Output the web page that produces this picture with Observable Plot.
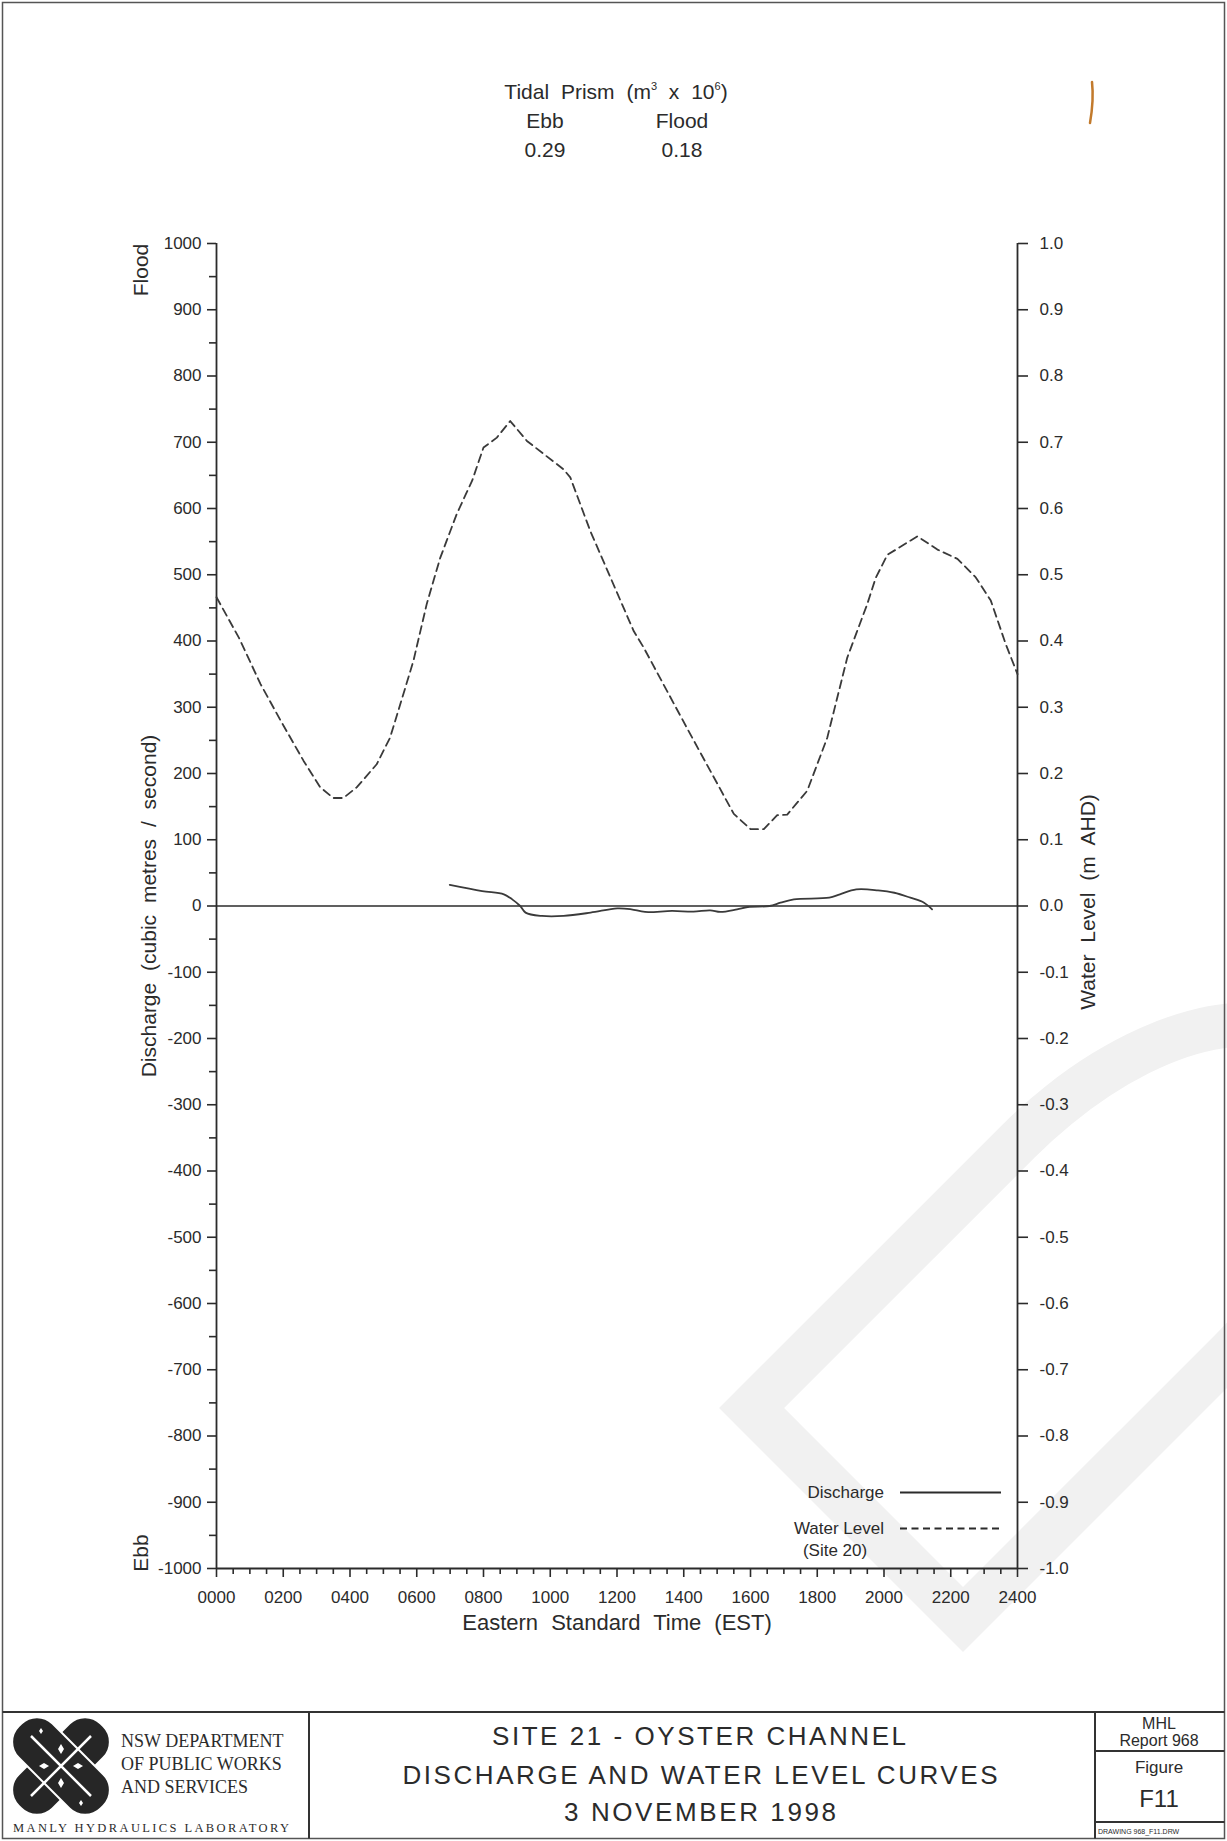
<!DOCTYPE html>
<html>
<head>
<meta charset="utf-8">
<script src="https://cdn.jsdelivr.net/npm/d3@7"></script>
<script src="https://cdn.jsdelivr.net/npm/@observablehq/plot@0.6"></script>
<style>
  html, body { margin: 0; padding: 0; background: #fff; }
  #page { position: relative; width: 1227px; height: 1841px; overflow: hidden; background: #fff; }
  #page > svg { position: absolute; left: 0; top: 0; }
</style>
</head>
<body>
<div id="page"></div>
<script>
// Water level at Site 20 (m AHD), hours after midnight EST
const levelHours = [0, 0.67, 1.32, 1.92, 2.61, 3.11, 3.5, 3.8, 4.2, 4.8, 5.2, 5.6, 5.9, 6.3, 6.7,
  7.2, 7.66, 8.0, 8.4, 8.8, 9.3, 10.4, 10.6, 11.2, 12.5, 12.8, 14.2, 15.5, 16.0, 16.4,
  16.8, 17.1, 17.7, 18.3, 18.9, 19.5, 19.75, 20.1, 21.0, 21.6, 22.2, 22.75, 23.2, 23.65, 24.0];
const levelMetres = [0.466, 0.405, 0.335, 0.28, 0.219, 0.179, 0.163, 0.163, 0.179, 0.214, 0.254, 0.32, 0.37, 0.456, 0.525,
  0.592, 0.642, 0.692, 0.707, 0.732, 0.702, 0.659, 0.647, 0.566, 0.415, 0.39, 0.259, 0.139, 0.116, 0.116,
  0.137, 0.138, 0.174, 0.254, 0.375, 0.456, 0.495, 0.53, 0.558, 0.538, 0.524, 0.496, 0.461, 0.395, 0.35];

// Measured discharge through Oyster Channel (m³/s, flood positive)
const dischargeHours = [6.99, 7.96, 8.61, 8.86, 9.10, 9.26, 9.75, 10.40, 11.21, 12.01, 12.43, 12.84, 13.65, 14.29,
  14.79, 15.10, 15.6, 15.92, 16.57, 16.9, 17.3, 18.36, 18.68, 19.17, 19.82, 20.31, 20.79, 21.2, 21.44];
const dischargeFlow = [32, 22.6, 17.6, 10, 0, -10, -15, -15, -10, -3.5, -5, -9, -7.5, -8.5,
  -6.5, -9, -5, -1.5, 0, 5, 10, 12.5, 17.6, 25, 23.6, 20, 12.5, 5, -5];

// Axis ticks
const hourTicks = d3.range(0, 24.01, 2);
const halfHourTicks = d3.range(0, 24.01, 0.5).filter(h => h % 2 !== 0);
const dischargeTicks = d3.range(-1000, 1001, 100);
const dischargeMinorTicks = d3.range(-950, 1000, 100);
const levelTicks = d3.range(-10, 11).map(i => i / 10);

// Tidal prism summary (m³ x 10⁶)
const prismLabels = ["Ebb", "Flood"];
const prismValues = ["0.29", "0.18"];

const waterLevel = levelHours.map((t, i) => ({t, level: levelMetres[i]}));
const discharge = dischargeHours.map((t, i) => ({t, q: dischargeFlow[i]}));

// Water level shares the vertical scale: 1.0 m AHD sits level with 1000 m³/s
const LEVEL_FACTOR = 1000;

const ink = "#2b2b2b";
const sans = "'Liberation Sans', Arial, Helvetica, sans-serif";
const serif = "'Liberation Serif', 'Times New Roman', serif";

const page = document.getElementById("page");
const NS = "http://www.w3.org/2000/svg";

// Faint "draft" stamp: a hollow D, turned 45°, running off the sheet
const stampH = 345, stampBar = 400, stampBowl = 300, stampBand = 46;
const stampPath =
  `M0,0 L0,${-stampH} L${stampBar},${-stampH} A${stampBowl},${stampH / 2} 0 0 1 ${stampBar},0 Z ` +
  `M${stampBand},${-stampBand} L${stampBar},${-stampBand} ` +
  `A${stampBowl - stampBand},${stampH / 2 - stampBand} 0 0 0 ${stampBar},${-(stampH - stampBand)} ` +
  `L${stampBand},${-(stampH - stampBand)} Z`;

// ---------- sheet furniture (border, headings, title block, legend) ----------
const sheet = document.createElementNS(NS, "svg");
sheet.setAttribute("width", 1227);
sheet.setAttribute("height", 1841);
sheet.innerHTML = `
  <path d="${stampPath}" transform="translate(963,1652) rotate(-45)" fill="#f1f1f1" fill-rule="evenodd"/>
  <rect x="2.5" y="2.5" width="1222" height="1836" fill="none" stroke="#555" stroke-width="1.5"/>
  <path d="M1092,82 Q1094,100 1090,123" fill="none" stroke="#c27a2c" stroke-width="2.5" stroke-linecap="round"/>

  <g font-family="${sans}" font-size="21" fill="${ink}" text-anchor="middle" word-spacing="6">
    <text x="616" y="99">Tidal Prism (m<tspan font-size="11" dy="-9">3</tspan><tspan dy="9"> x 10</tspan><tspan font-size="11" dy="-9">6</tspan><tspan dy="9">)</tspan></text>
    <text x="545" y="128">${prismLabels[0]}</text>
    <text x="682" y="128">${prismLabels[1]}</text>
    <text x="545" y="157">${prismValues[0]}</text>
    <text x="682" y="157">${prismValues[1]}</text>
  </g>

  <g font-family="${sans}" font-size="21" fill="${ink}" text-anchor="middle" word-spacing="6">
    <text transform="translate(148,270) rotate(-90)">Flood</text>
    <text transform="translate(148,1553) rotate(-90)">Ebb</text>
    <text transform="translate(156,906) rotate(-90)">Discharge (cubic metres / second)</text>
    <text transform="translate(1095,902) rotate(-90)">Water Level (m AHD)</text>
    <text x="617" y="1630" font-size="22" word-spacing="7">Eastern Standard Time (EST)</text>
  </g>

  <g font-family="${sans}" font-size="17" fill="${ink}">
    <text x="884" y="1498" text-anchor="end">Discharge</text>
    <text x="884" y="1534" text-anchor="end">Water Level</text>
    <text x="835" y="1556" text-anchor="middle">(Site 20)</text>
    <line x1="900" x2="1001" y1="1492.5" y2="1492.5" stroke="${ink}" stroke-width="1.8"/>
    <line x1="900" x2="1001" y1="1528.5" y2="1528.5" stroke="${ink}" stroke-width="1.8" stroke-dasharray="7,4.5"/>
  </g>

  <g stroke="#333" stroke-width="2" fill="none">
    <line x1="2.5" x2="1224.5" y1="1712" y2="1712"/>
    <line x1="309" x2="309" y1="1712" y2="1838.5"/>
    <line x1="1095" x2="1095" y1="1712" y2="1838.5"/>
    <line x1="1095" x2="1224.5" y1="1751" y2="1751"/>
    <line x1="1095" x2="1224.5" y1="1822" y2="1822"/>
  </g>

  <g transform="translate(61,1766)">
    <rect x="-24" y="-58" width="48" height="116" rx="22" transform="rotate(45)" fill="#262626" stroke="#fff" stroke-width="2"/>
    <rect x="-24" y="-58" width="48" height="116" rx="22" transform="rotate(-45)" fill="#262626" stroke="#fff" stroke-width="2"/>
    <path d="M-30,-30 L30,30 M-30,30 L30,-30" stroke="#fff" stroke-width="2.5"/>
    <g fill="#fff">
      <path d="M0,-22 l3,5 l-3,5 l-3,-5z"/>
      <path d="M0,12 l3,5 l-3,5 l-3,-5z"/>
      <path d="M-22,0 l5,-3 l5,3 l-5,3z"/>
      <path d="M12,0 l5,-3 l5,3 l-5,3z"/>
      <path d="M-20,-38 l2,3 l-2,3 l-2,-3z"/>
      <path d="M20,34 l2,3 l-2,3 l-2,-3z"/>
    </g>
  </g>
  <g font-family="${serif}" font-size="18" fill="${ink}">
    <text x="121" y="1747">NSW DEPARTMENT</text>
    <text x="121" y="1770">OF PUBLIC WORKS</text>
    <text x="121" y="1793">AND SERVICES</text>
    <text x="13" y="1832" font-size="12.5" textLength="276" lengthAdjust="spacing">MANLY HYDRAULICS LABORATORY</text>
  </g>

  <g font-family="${sans}" font-size="26" fill="${ink}" text-anchor="middle">
    <text x="699" y="1745" textLength="414" lengthAdjust="spacing">SITE 21 - OYSTER CHANNEL</text>
    <text x="700" y="1784" textLength="595" lengthAdjust="spacing">DISCHARGE AND WATER LEVEL CURVES</text>
    <text x="700" y="1821" textLength="272" lengthAdjust="spacing">3 NOVEMBER 1998</text>
  </g>

  <g font-family="${sans}" fill="${ink}" text-anchor="middle">
    <text x="1159" y="1729" font-size="16">MHL</text>
    <text x="1159" y="1746" font-size="16">Report 968</text>
    <text x="1159" y="1773" font-size="17">Figure</text>
    <text x="1159" y="1807" font-size="24">F11</text>
    <text x="1098" y="1834" font-size="7" text-anchor="start">DRAWING 968_F11.DRW</text>
  </g>
`;
page.appendChild(sheet);

// ---------- chart ----------
const chart = Plot.plot({
  width: 1227,
  height: 1700,
  marginLeft: 216,
  marginRight: 210,
  marginTop: 243,
  marginBottom: 132,
  x: {domain: [0, 24]},
  y: {domain: [-1000, 1000]},
  style: {background: "transparent", fontFamily: sans, fontSize: "17px", color: ink, overflow: "visible"},
  marks: [
    // left axis: discharge
    Plot.axisY(dischargeTicks, {anchor: "left", tickSize: 9, tickPadding: 6, tickFormat: d => String(d), label: null, strokeWidth: 1.6}),
    Plot.axisY(dischargeMinorTicks, {anchor: "left", tickSize: 7, tickFormat: () => "", label: null, strokeWidth: 1.6}),
    // right axis: water level
    Plot.axisY(levelTicks.map(l => l * LEVEL_FACTOR), {anchor: "right", tickSize: 10, tickPadding: 12, tickFormat: d => (d / LEVEL_FACTOR).toFixed(1), label: null, strokeWidth: 1.6}),
    // time axis
    Plot.axisX(hourTicks, {anchor: "bottom", tickSize: 9, tickPadding: 13, tickFormat: d => String(Math.round(d * 100)).padStart(4, "0"), label: null, strokeWidth: 1.6}),
    Plot.axisX(halfHourTicks, {anchor: "bottom", tickSize: 6, tickFormat: () => "", label: null, strokeWidth: 1.6}),
    // frame lines and zero line
    Plot.ruleX([0, 24], {stroke: ink, strokeWidth: 1.8}),
    Plot.ruleY([-1000], {stroke: ink, strokeWidth: 1.8}),
    Plot.ruleY([0], {stroke: ink, strokeWidth: 1.6}),
    // series
    Plot.line(waterLevel, {x: "t", y: d => d.level * LEVEL_FACTOR, stroke: "#3a3a3a", strokeWidth: 1.8, strokeDasharray: "8,5"}),
    Plot.line(discharge, {x: "t", y: "q", stroke: "#3a3a3a", strokeWidth: 1.8, curve: "catmull-rom"})
  ]
});
page.appendChild(chart);
</script>
</body>
</html>
